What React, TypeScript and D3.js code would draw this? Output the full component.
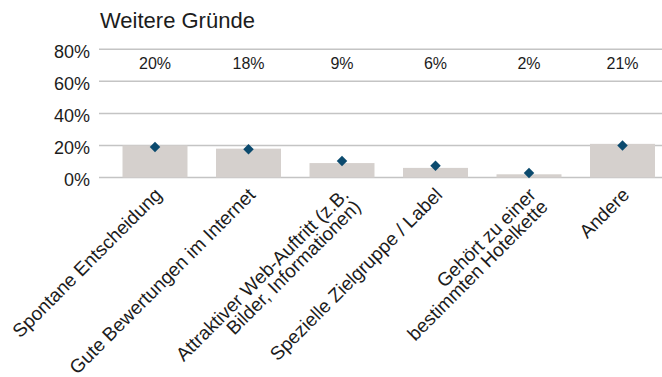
import React, { useEffect, useRef } from "react";
import * as d3 from "d3";

// Reasons (multi-line labels are split with "\n")
const categories = [
  "Spontane Entscheidung",
  "Gute Bewertungen im Internet",
  "Attraktiver Web-Auftritt (z.B.\nBilder, Informationen)",
  "Spezielle Zielgruppe / Label",
  "Gehört zu einer\nbestimmten Hotelkette",
  "Andere",
];
const barValues = [0.2, 0.18, 0.09, 0.06, 0.02, 0.21];
const markerValues = [0.19, 0.176, 0.103, 0.074, 0.028, 0.199];
const yTicks = [0, 0.2, 0.4, 0.6, 0.8];
const title = "Weitere Gründe";

const W = 662;
const H = 377;
const FONT = "'Liberation Sans', Arial, Helvetica, sans-serif";
const TEXT = "#1c1c1c";

export default function App() {
  const ref = useRef<SVGSVGElement | null>(null);

  useEffect(() => {
    const svg = d3.select(ref.current);
    svg.selectAll("*").remove();

    const x = d3
      .scaleBand<number>()
      .domain(d3.range(categories.length))
      .range([108.25, 669.25])
      .paddingInner(0.305)
      .paddingOuter(0.1525);
    const y = d3.scaleLinear().domain([0, 0.8]).range([177.5, 49.3]);
    const pct = d3.format(".0%");

    svg
      .append("text")
      .attr("x", 100)
      .attr("y", 28)
      .attr("font-size", 22)
      .attr("fill", TEXT)
      .text(title);

    // gridlines
    svg
      .append("g")
      .selectAll("line")
      .data(yTicks)
      .join("line")
      .attr("x1", 99)
      .attr("x2", W)
      .attr("y1", (d) => y(d))
      .attr("y2", (d) => y(d))
      .attr("stroke", "#c4c4c4")
      .attr("stroke-width", 1.5);

    // y tick labels
    svg
      .append("g")
      .selectAll("text")
      .data(yTicks)
      .join("text")
      .attr("x", 90)
      .attr("y", (d) => y(d) + 8.5)
      .attr("text-anchor", "end")
      .attr("font-size", 18)
      .attr("fill", TEXT)
      .text((d) => pct(d));

    // bars
    svg
      .append("g")
      .selectAll("rect")
      .data(barValues)
      .join("rect")
      .attr("x", (_, i) => x(i)!)
      .attr("width", x.bandwidth())
      .attr("y", (d) => y(d))
      .attr("height", (d) => y(0) - y(d))
      .attr("fill", "#d5d0cd");

    // value labels row
    svg
      .append("g")
      .selectAll("text")
      .data(barValues)
      .join("text")
      .attr("x", (_, i) => x(i)! + x.bandwidth() / 2)
      .attr("y", 69)
      .attr("text-anchor", "middle")
      .attr("font-size", 16)
      .attr("fill", TEXT)
      .text((d) => pct(d));

    // markers
    const diamond = d3.symbol().type(d3.symbolDiamond2).size(70);
    svg
      .append("g")
      .selectAll("path")
      .data(markerValues)
      .join("path")
      .attr("d", diamond)
      .attr(
        "transform",
        (d, i) => `translate(${x(i)! + x.bandwidth() / 2},${y(d)})`
      )
      .attr("fill", "#0b4a6e");

    // rotated category labels, right-aligned lines
    const lineH = 17;
    const labels = svg.append("g").attr("font-size", 19).attr("fill", TEXT);
    categories.forEach((cat, i) => {
      const lines = cat.split("\n");
      const cx = x(i)! + x.bandwidth() / 2;
      const g = labels
        .append("g")
        .attr("transform", `translate(${cx + 8},${196}) rotate(-45)`);
      lines.forEach((ln, j) => {
        g.append("text")
          .attr("text-anchor", "end")
          .attr("x", 0)
          .attr("y", j * lineH)
          .text(ln);
      });
    });
  }, []);

  return (
    <svg
      ref={ref}
      width={W}
      height={H}
      style={{ position: "absolute", left: 0, top: 0, fontFamily: FONT, background: "#fff" }}
    />
  );
}
